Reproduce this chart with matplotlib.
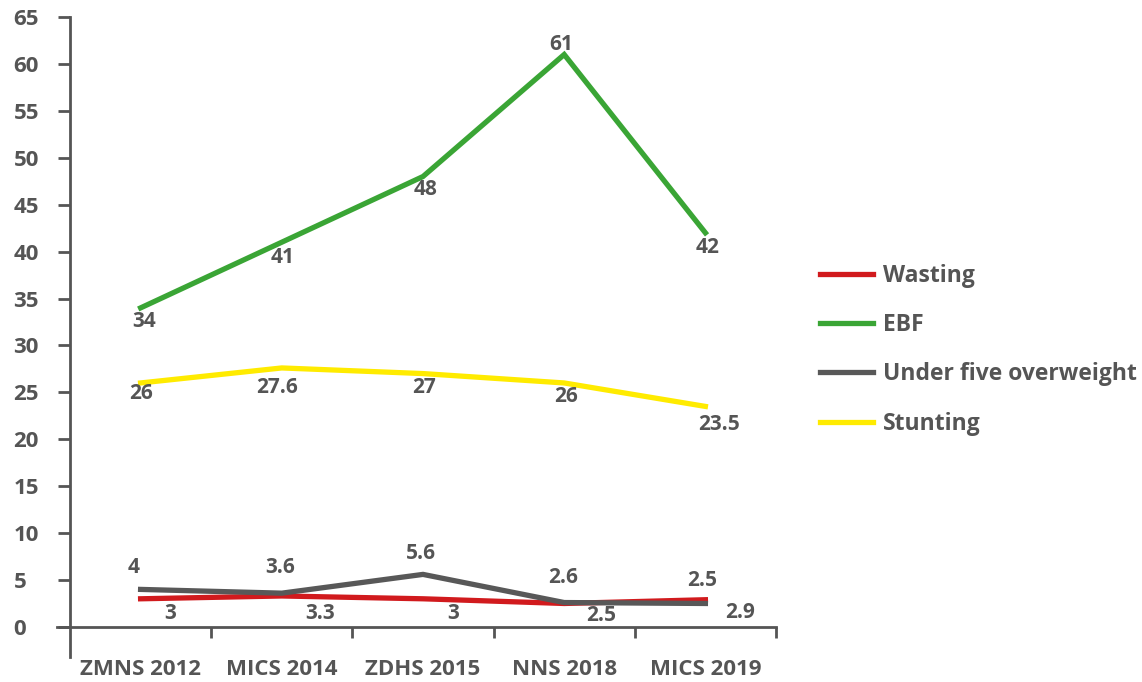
import matplotlib.pyplot as plt

surveys = ['ZMNS 2012', 'MICS 2014', 'ZDHS 2015', 'NNS 2018', 'MICS 2019']
wasting = [3, 3.3, 3, 2.5, 2.9]
ebf = [34, 41, 48, 61, 42]
overweight = [4, 3.6, 5.6, 2.6, 2.5]
stunting = [26, 27.6, 27, 26, 23.5]

# label offsets in pixels (dx, dy downwards) for each series
wasting_off = [(30, 15), (38, 18), (30, 15), (37, 12), (35, 13)]
ebf_off = [(4, 14), (1, 15), (3, 13), (-3, -10), (2, 15)]
overweight_off = [(-7, -22), (-2, -26), (-2, -21), (-1, -25), (-3, -23)]
stunting_off = [(0, 11), (-5, 20), (1, 14), (2, 14), (14, 18)]

grey = '#555555'
plt.rcParams['font.family'] = ['Open Sans', 'DejaVu Sans']
plt.rcParams['font.weight'] = 'bold'

fig = plt.figure(figsize=(11.42, 6.82), dpi=100)
ax = fig.add_axes([0.0613, 0.0367, 0.6182, 0.9384])

x = list(range(len(surveys)))
series = [
    ('Wasting', wasting, '#d11a1d', wasting_off),
    ('EBF', ebf, '#3aa535', ebf_off),
    ('Under five overweight', overweight, '#585858', overweight_off),
    ('Stunting', stunting, '#ffeb00', stunting_off),
]
for name, vals, col, offs in series:
    ax.plot(x, vals, color=col, lw=3.8, label=name, solid_joinstyle='miter')
    for xi, v, (dx, dy) in zip(x, vals, offs):
        ax.annotate(f'{v:g}', (xi, v), xytext=(dx, -dy), textcoords='offset pixels',
                    ha='center', va='center', fontsize=15, color=grey, fontweight='bold')

ax.set_xlim(-0.5, 4.5)
ax.set_ylim(-3.2, 65)

for s in ['top', 'right']:
    ax.spines[s].set_visible(False)
ax.spines['bottom'].set_position(('data', 0))
ax.spines['bottom'].set_bounds(-0.592, 4.5)
for s in ['left', 'bottom']:
    ax.spines[s].set_color(grey)
    ax.spines[s].set_linewidth(2)

ax.set_yticks(range(0, 66, 5))
ax.tick_params(axis='y', direction='out', length=9, width=2, color=grey,
               labelsize=16, labelcolor=grey, pad=31.7)
for t in ax.get_yticklabels():
    t.set_horizontalalignment('left')
    t.set_fontweight('bold')

ax.set_xticks(x)
ax.set_xticklabels(surveys, fontweight='bold')
ax.set_xticks([i + 0.5 for i in x], minor=True)
ax.tick_params(axis='x', which='major', length=0, labelsize=16, labelcolor=grey, pad=23)
ax.tick_params(axis='x', which='minor', direction='out', length=8, width=2, color=grey)

leg = ax.legend(loc='center left', bbox_to_anchor=(0.700, 0.487), bbox_transform=fig.transFigure,
                frameon=False, fontsize=16.5, handlelength=2.3, handletextpad=0.44,
                labelspacing=1.1)
for t in leg.get_texts():
    t.set_color(grey)
    t.set_fontweight('bold')

fig.savefig('out.png', dpi=100)
